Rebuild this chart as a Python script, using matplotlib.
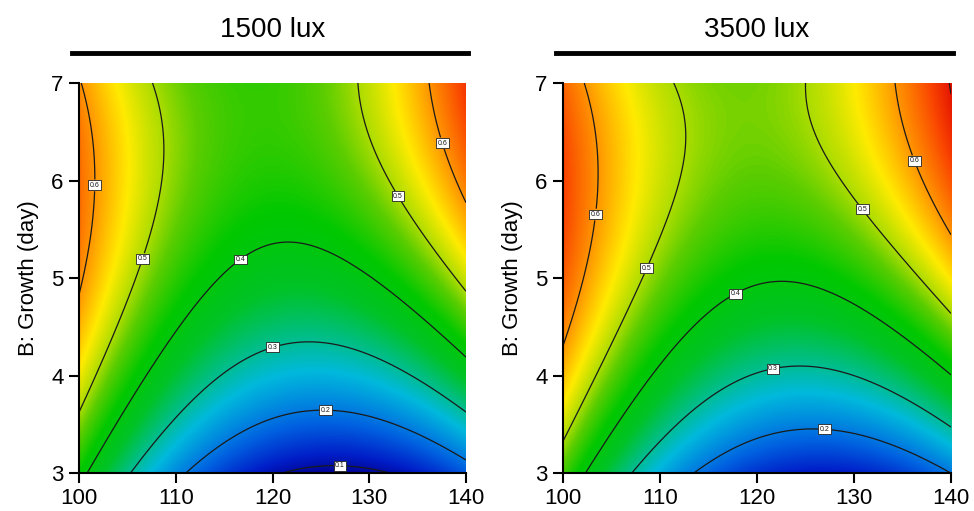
import numpy as np
import matplotlib
matplotlib.use("Agg")
import matplotlib.pyplot as plt
from matplotlib.colors import LinearSegmentedColormap
from matplotlib.lines import Line2D

plt.rcParams['font.family'] = ['Liberation Sans', 'DejaVu Sans']

# ---- data: quadratic response-surface coefficients ----
# model in coded units X=(x-120)/20, Y=(y-5)/2:
# f = b0 + b1*X + b2*Y + b11*X^2 + b22*Y^2 + b12*X*Y
panel_titles = ["1500 lux", "3500 lux"]
coef_1500 = [0.373, -0.0455, 0.171, 0.190, -0.096, 0.0795]
coef_3500 = [0.406, -0.047, 0.1706, 0.190, -0.097, 0.081]
coefs = [coef_1500, coef_3500]
x_range = [100, 140]
y_range = [3, 7]
x_ticks = [100, 110, 120, 130, 140]
y_ticks = [3, 4, 5, 6, 7]
contour_levels = [0.1, 0.2, 0.3, 0.4, 0.5, 0.6, 0.7]
y_label = "B: Growth (day)"

# label positions (layout)
label_pos = [
    [(101.7, 5.95), (106.5, 5.2), (116.6, 5.2), (119.9, 4.32), (125.5, 3.68),
     (127.0, 3.12), (133.0, 5.84), (137.4, 6.38)],
    [(103.4, 5.65), (108.6, 5.1), (117.7, 4.85), (121.6, 4.09), (127.0, 3.48),
     (130.8, 5.70), (136.2, 6.2)],
]

# Design-Expert like colormap
cmap_vals = [0.08, 0.12, 0.18, 0.26, 0.31, 0.36, 0.42, 0.47, 0.50, 0.545, 0.60,
             0.66, 0.72]
cmap_cols = [(0, 0, 140), (0, 30, 200), (0, 100, 225), (0, 185, 220),
             (0, 190, 130), (0, 195, 40), (0, 200, 0), (90, 205, 0),
             (170, 220, 0), (255, 235, 0), (255, 150, 0), (250, 70, 0),
             (220, 0, 0)]
vmin, vmax = cmap_vals[0], cmap_vals[-1]
cmap = LinearSegmentedColormap.from_list(
    "de", [((v - vmin) / (vmax - vmin), tuple(c / 255 for c in col))
           for v, col in zip(cmap_vals, cmap_cols)])

W, H = 974, 511
fig = plt.figure(figsize=(W / 100, H / 100), dpi=100)

axes_px = [(79, 466), (563, 951)]
top_px, bot_px = 83, 473

xs = np.linspace(x_range[0], x_range[1], 400)
ys = np.linspace(y_range[0], y_range[1], 400)
XX, YY = np.meshgrid(xs, ys)

for i, (l, r) in enumerate(axes_px):
    ax = fig.add_axes([l / W, 1 - bot_px / H, (r - l) / W, (bot_px - top_px) / H])
    b0, b1, b2, b11, b22, b12 = coefs[i]
    Xc = (XX - 120) / 20
    Yc = (YY - 5) / 2
    Z = b0 + b1 * Xc + b2 * Yc + b11 * Xc ** 2 + b22 * Yc ** 2 + b12 * Xc * Yc
    ax.imshow(Z, extent=[x_range[0], x_range[1], y_range[0], y_range[1]],
              origin='lower', aspect='auto', cmap=cmap, vmin=vmin, vmax=vmax,
              interpolation='bilinear')
    cs = ax.contour(XX, YY, Z, levels=contour_levels, colors='#1a1a1a',
                    linewidths=0.9)
    txts = ax.clabel(cs, fmt='%.1f', fontsize=5, inline=True,
                     inline_spacing=1, manual=label_pos[i])
    for t in txts:
        t.set_rotation(0)
        t.set_bbox(dict(facecolor='white', edgecolor='#222222', pad=1.0,
                        linewidth=0.6))
    ax.set_xlim(x_range)
    ax.set_ylim(y_range)
    ax.set_xticks(x_ticks)
    ax.set_yticks(y_ticks)
    for s in ['top', 'right']:
        ax.spines[s].set_visible(False)
    for s in ['left', 'bottom']:
        ax.spines[s].set_linewidth(1.5)
    ax.tick_params(direction='out', length=7, width=1.5, labelsize=16, pad=4)
    ax.set_ylabel(y_label, fontsize=16, labelpad=9)

    cx = (l + r) / 2
    fig.text(cx / W, 1 - 30 / H, panel_titles[i], ha='center', va='center',
             fontsize=20)
    fig.add_artist(Line2D([(l - 7) / W, (r + 2) / W], [1 - 53 / H, 1 - 53 / H],
                          transform=fig.transFigure, color='black', lw=3.5))

fig.savefig("out.png", dpi=100)
